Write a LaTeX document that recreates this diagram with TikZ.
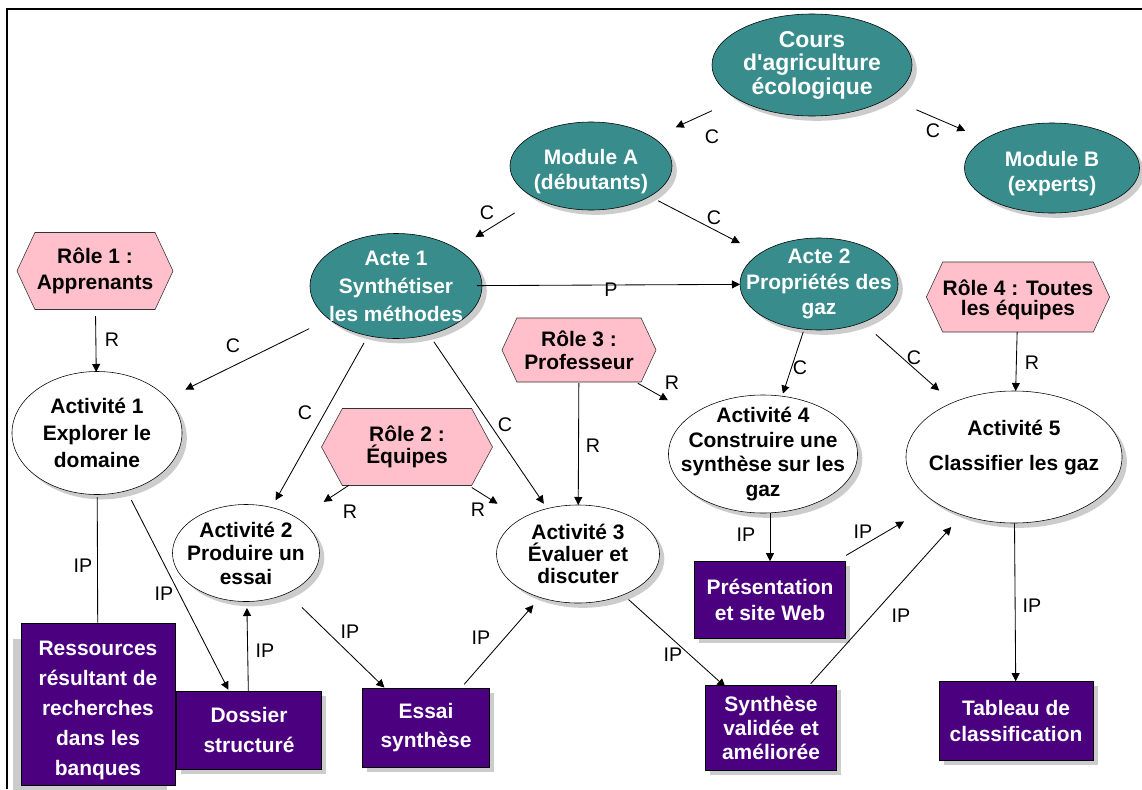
\documentclass[tikz,border=0pt]{standalone}
\usepackage{fontspec}
\setmainfont{Liberation Sans}[Ligatures=TeXOff]
\usetikzlibrary{shapes.geometric,shapes.symbols,shadows,arrows.meta}

\definecolor{coursteal}{RGB}{56,140,140}
\definecolor{rolepink}{RGB}{255,192,203}
\definecolor{prodpurple}{RGB}{75,0,128}

\newcommand\lsk[2]{\fontsize{#1pt}{#2pt}\selectfont\bfseries}

\tikzset{
  ombre/.style={drop shadow={shadow xshift=0.12cm, shadow yshift=-0.12cm, fill=black!20, opacity=1}},
  acte/.style={ellipse, draw=black, fill=coursteal, text=white, inner sep=-2cm, align=center, font=\lsk{14.9}{17.7}, ombre},
  activite/.style={ellipse, draw=black, fill=white, inner sep=-2cm, align=center, font=\lsk{14.9}{17.7}, ombre},
  role/.style={signal, signal to=east and west, signal pointer angle=130, draw=black!80, fill=rolepink, inner sep=0pt, align=center, font=\lsk{14.9}{17}},
  produit/.style={rectangle, draw=black, fill=prodpurple, text=white, inner sep=0pt, align=center, font=\lsk{14.9}{17}},
  lien/.style={line width=0.6pt, -{Triangle[length=0.2cm,width=0.2cm]}},
  lbl/.style={font=\fontsize{14pt}{16pt}\selectfont, inner sep=0pt},
}

\begin{document}
\begin{tikzpicture}[x=0.025cm, y=-0.025cm]
\useasboundingbox (0,0) rectangle (1142,789);
\draw[line width=1.4pt] (1142,9) -- (7,9) -- (7,789);

% cours, modules, actes
\node (cours) at (812,65)[acte, minimum width=5cm, minimum height=2.55cm, font=\lsk{16.3}{16.7}]{Cours\\d'agriculture\\écologique};
\node (modA) at (591,166)[acte, minimum width=4.05cm, minimum height=2.2cm, text height=37pt]{Module A\\(débutants)};
\node (modB) at (1052,168)[acte, minimum width=4.375cm, minimum height=2.25cm, text height=37pt]{Module B\\(experts)};
\node (acte1) at (396,286)[acte, minimum width=4.3cm, minimum height=2.625cm, font=\lsk{14.9}{19.9}]{Acte 1\\Synthétiser\\les méthodes};
\node (acte2) at (819,284)[acte, minimum width=3.95cm, minimum height=2.3cm, font=\lsk{14.9}{18}]{Acte 2\\Propriétés des\\gaz};

% roles
\node (role1) at (95,271)[role, minimum width=3.9cm, minimum height=1.925cm, font=\lsk{14.9}{18.4}]{Rôle 1 :\\Apprenants};
\node (role2) at (407,447)[role, minimum width=4.275cm, minimum height=1.925cm, signal pointer angle=123, font=\lsk{14.9}{15.6}]{Rôle 2 :\\Équipes};
\node (role3) at (579,350)[role, minimum width=3.85cm, minimum height=1.6cm, font=\lsk{14.9}{16.3}]{Rôle 3 :\\Professeur};
\node (role4) at (1018,297)[role, minimum width=4.325cm, minimum height=1.75cm, font=\lsk{14.9}{14.2}, text height=30pt]{Rôle 4 : Toutes\\les équipes};

% activites
\node (act1) at (97,433)[activite, minimum width=4.25cm, minimum height=3.075cm, font=\lsk{14.9}{19.1}]{Activité 1\\Explorer le\\domaine};
\node (act2) at (246,553)[activite, minimum width=3.675cm, minimum height=2.425cm, font=\lsk{14.9}{16.7}]{Activité 2\\Produire un\\essai};
\node (act3) at (578,554)[activite, minimum width=4.075cm, minimum height=2.45cm, font=\lsk{14.9}{15.6}]{Activité 3\\Évaluer et\\discuter};
\node (act4) at (763,454)[activite, minimum width=4.725cm, minimum height=2.95cm, font=\lsk{14.9}{17.7}]{Activité 4\\Construire une\\synthèse sur les\\gaz};
\node (act5) at (1014,457)[activite, minimum width=5.4cm, minimum height=3.3cm, font=\lsk{14.9}{24.8}, text depth=0.6cm]{Activité 5\\Classifier les gaz};

% productions
\node (ress) at (98,704)[produit, minimum width=3.85cm, minimum height=4.05cm, font=\lsk{14.9}{21.3}, text height=104.5pt, drop shadow={shadow xshift=-0.2cm, shadow yshift=-0.4cm, fill=black!20, opacity=1}]{Ressources\\résultant de\\recherches\\dans les\\banques};
\node (doss) at (249,730)[produit, ombre, minimum width=3.625cm, minimum height=1.95cm, font=\lsk{14.9}{21.3}]{Dossier\\structuré};
\node (essai) at (426,728)[produit, ombre, minimum width=3.175cm, minimum height=1.975cm, font=\lsk{14.9}{20.6}]{Essai\\synthèse};
\node (pres) at (770,600)[produit, ombre, minimum width=3.775cm, minimum height=1.925cm, font=\lsk{14.9}{18.4}]{Présentation\\et site Web};
\node (synth) at (771,728)[produit, ombre, minimum width=3.275cm, minimum height=2.125cm, font=\lsk{14.9}{17}]{Synthèse\\validée et\\améliorée};
\node (tab) at (1016,721)[produit, ombre, minimum width=3.85cm, minimum height=1.975cm, font=\lsk{14.9}{19.1}]{Tableau de\\classification};

% liens C et P
\draw[lien, shorten <=2.75cm, shorten >=2.33cm] (cours.center) -- (modA.center);
\draw[lien, shorten <=2.84cm, shorten >=2.36cm] (cours.center) -- (modB.center);
\draw[lien, shorten <=2.24cm, shorten >=2.33cm] (modA.center) -- (acte1.center);
\draw[lien, shorten <=1.89cm, shorten >=2.225cm] (modA.center) -- (acte2.center);
\draw[lien, shorten <=2.025cm, shorten >=1.975cm] (acte1.center) -- (acte2.center);
\draw[lien, shorten <=2.415cm, shorten >=2.46cm] (acte1.center) -- (act1.center);
\draw[lien, shorten <=1.635cm, shorten >=1.51cm] (acte1.center) -- (act2.center);
\draw[lien, shorten <=1.685cm, shorten >=1.52cm] (acte1.center) -- (act3.center);
\draw[lien, shorten <=1.26cm, shorten >=1.59cm] (acte2.center) -- (act4.center);
\draw[lien, shorten <=1.9cm, shorten >=2.5cm] (acte2.center) -- (act5.center);

% liens R
\draw[lien, shorten <=1.125cm, shorten >=1.525cm] (role1.center) -- (act1.center);
\draw[lien, shorten <=1.74cm, shorten >=2.325cm] (role2.center) -- (act2.center);
\draw[lien, shorten <=1.91cm, shorten >=2.37cm] (role2.center) -- (act3.center);
\draw[lien, shorten <=0.825cm, shorten >=1.225cm] (role3.center) -- (act3.center);
\draw[lien, shorten <=1.69cm, shorten >=2.73cm] (role3.center) -- (act4.center);
\draw[lien, shorten <=0.875cm, shorten >=1.65cm] (role4.center) -- (act5.center);

% liens IP
\draw[line width=0.6pt, shorten <=1.6cm] (act1.center) -- (ress);
\draw[lien, shorten <=1.88cm, shorten >=1.13cm] (act1.center) -- (doss.center);
\draw[lien, shorten >=1.375cm] (doss) -- (act2.center);
\draw[lien, shorten <=1.95cm, shorten >=1.45cm] (act2.center) -- (essai.center);
\draw[lien, shorten <=1.45cm, shorten >=1.695cm] (essai.center) -- (act3.center);
\draw[lien, shorten <=1.7cm, shorten >=1.54cm] (act3.center) -- (synth.center);
\draw[lien] (pres.north |- act4.south) -- (pres.north);
\draw[lien, shorten <=2.205cm, shorten >=3.185cm] (pres.center) -- (act5.center);
\draw[lien, shorten <=1.485cm, shorten >=2.35cm] (synth.center) -- (act5.center);
\draw[lien] (act5) -- (tab);

% etiquettes
\node (lab1) at (712,137)[lbl]{C};
\node (lab2) at (933,131)[lbl]{C};
\node (lab3) at (487,213)[lbl]{C};
\node (lab4) at (714,218)[lbl]{C};
\node (lab5) at (611,290)[lbl]{P};
\node (lab6) at (233,346)[lbl]{C};
\node (lab7) at (305,413)[lbl]{C};
\node (lab8) at (505,425)[lbl]{C};
\node (lab9) at (112,340)[lbl]{R};
\node (lab10) at (350,512)[lbl]{R};
\node (lab11) at (478,510)[lbl]{R};
\node (lab12) at (593,446)[lbl]{R};
\node (lab13) at (672,383)[lbl]{R};
\node (lab14) at (800,368)[lbl]{C};
\node (lab15) at (914,358)[lbl]{C};
\node (lab16) at (1032,363)[lbl]{R};
\node (lab17) at (83,566)[lbl]{IP};
\node (lab18) at (164,594)[lbl]{IP};
\node (lab19) at (265,651)[lbl]{IP};
\node (lab20) at (350,632)[lbl]{IP};
\node (lab21) at (481,638)[lbl]{IP};
\node (lab22) at (673,655)[lbl]{IP};
\node (lab23) at (746,535)[lbl]{IP};
\node (lab24) at (863,532)[lbl]{IP};
\node (lab25) at (901,616)[lbl]{IP};
\node (lab26) at (1032,606)[lbl]{IP};
\end{tikzpicture}
\end{document}
